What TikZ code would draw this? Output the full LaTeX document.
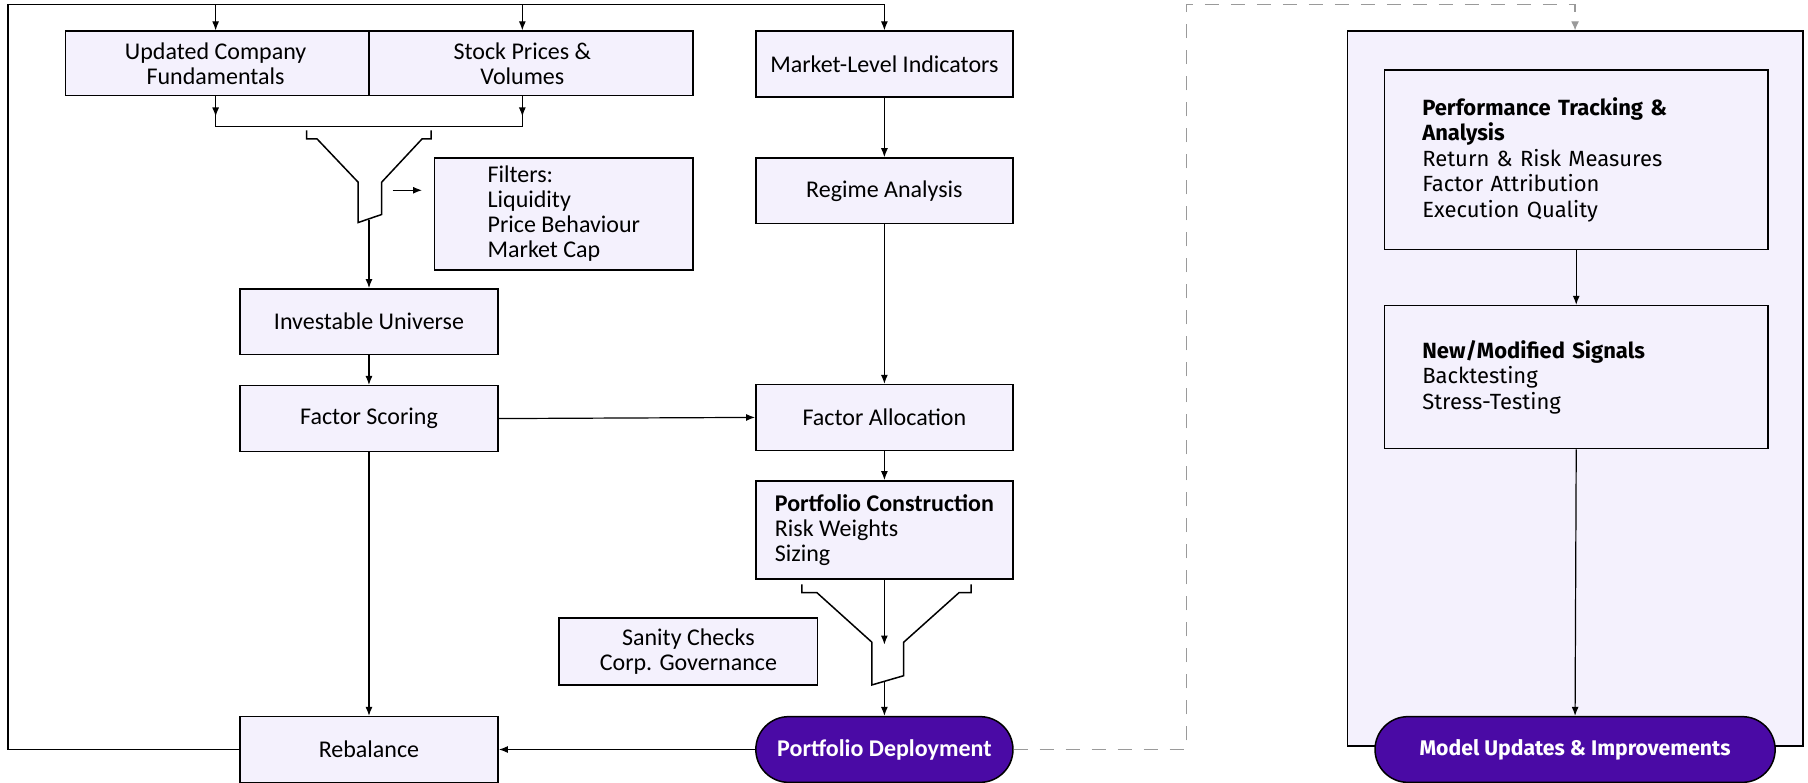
\documentclass[tikz,border=0pt]{standalone}
\usepackage{fontspec}
\setmainfont{Carlito}
\newfontfamily\plexfont{Fira Sans}
\usetikzlibrary{arrows.meta,shapes.misc}

\definecolor{boxfill}{HTML}{F4F1FD}
\definecolor{deploy}{HTML}{4A0AA5}
\definecolor{dashgray}{HTML}{9A9A9A}

\newlength\gridu
\setlength\gridu{0.5765pt}

\tikzset{
  box/.style={draw, fill=boxfill, line width=0.75pt, minimum width=224\gridu,
    minimum height=57\gridu, align=center, font=\fontsize{12}{12.5}\selectfont},
  pill/.style={rounded rectangle, draw, fill=deploy, text=white, line width=0.75pt,
    minimum height=57\gridu, inner sep=0pt},
  detail/.style={draw, fill=boxfill, line width=0.75pt, minimum width=333\gridu,
    text width=267\gridu, inner xsep=33\gridu, align=left,
    font=\plexfont\fontsize{11}{12.7}\selectfont},
  wire/.style={line width=0.6pt},
  flow/.style={wire, -{Latex[length=4.5pt,width=3.5pt]}},
  funnel/.style={line width=0.75pt},
  gdash/.style={dashgray, line width=0.6pt, dash pattern=on 7pt off 6pt,
    -{Latex[length=4.5pt,width=4pt]}},
}

\begin{document}
\begin{tikzpicture}[x=\gridu, y=-\gridu]
  \useasboundingbox (0,0) rectangle (1568,679);

  % data feeds (one frame, two halves)
  \node[box, minimum width=544\gridu, minimum height=56\gridu] (feeds) at (329,55) {};
  \draw[line width=0.75pt] (320,27) -- (320,83);
  \node[align=center, font=\fontsize{12}{12.5}\selectfont] (fund) at (187,55) {Updated Company\\Fundamentals};
  \node[align=center, font=\fontsize{12}{12.5}\selectfont] (prices) at (453,55) {Stock Prices \&\\Volumes};

  % left column
  \node[box, minimum height=97\gridu, align=left] (filters) at (489,185.5) {Filters:\\Liquidity\\Price Behaviour\\Market Cap};
  \node[box] (inv) at (320,279) {Investable Universe};
  \node[box] (score) at (320,363) {Factor Scoring};
  \node[box] (reb) at (320,650) {Rebalance};

  % middle column
  \node[box, minimum width=223\gridu, minimum height=57\gridu] (mkt) at (767,55.5) {Market-Level Indicators};
  \node[box, minimum width=223\gridu] (regime) at (767,165.5) {Regime Analysis};
  \node[box, minimum width=223\gridu] (alloc) at (767,362) {Factor Allocation};
  \node[box, minimum width=223\gridu, minimum height=85\gridu, align=left] (pc) at (767,459.5)
    {\textbf{Portfolio Construction}\\Risk Weights\\Sizing};
  \node[box, minimum height=58\gridu] (sanity) at (597,565) {Sanity Checks\\Corp. Governance};
  \node[pill, minimum width=223\gridu, font=\bfseries\fontsize{12}{12.5}\selectfont] (dep) at (767,650) {Portfolio Deployment};

  % review loop on the right
  \node[draw, fill=boxfill, line width=0.75pt, minimum width=395\gridu, minimum height=620\gridu] (cont) at (1366,337) {};
  \node[detail, minimum height=156\gridu] (perf) at (1367,138.5)
    {\textbf{Performance Tracking \&}\\\textbf{Analysis}\\Return \& Risk Measures\\Factor Attribution\\Execution Quality};
  \node[detail, minimum height=124\gridu] (signals) at (1367,327)
    {\textbf{New/Modified Signals}\\Backtesting\\Stress-Testing};
  \node[pill, minimum width=347\gridu, font=\plexfont\bfseries\fontsize{10.6}{12}\selectfont] (model) at (1366,650) {Model Updates \& Improvements};

  % feedback from rebalance to the inputs
  \coordinate (loop) at (7,4);
  \draw[flow] (reb.west) -| (loop) -| (mkt.north);
  \draw[flow] (fund |- loop) -- (fund |- feeds.north);
  \draw[flow] (prices |- loop) -- (prices |- feeds.north);

  % merge of the two feeds
  \coordinate (mergeL) at (187,110);
  \coordinate (mergeR) at (453,110);
  \draw[wire] (fund |- feeds.south) -- (mergeL) -- (mergeR) -- (prices |- feeds.south);
  \draw[flow] (fund |- feeds.south) -- (187,101);
  \draw[flow] (prices |- feeds.south) -- (453,101);

  % screening funnel
  \draw[funnel] (266,113) -- (266,120.5) -- (275,120.5) -- (310.6,158) -- (310.6,193)
    -- (331,186) -- (331,158) -- (366,120.5) -- (374,120.5) -- (374,113);
  \draw[flow] (340.5,165) -- (366,165);
  \coordinate (screenout) at (320,191);
  \draw[flow] (screenout) -- (inv.north);

  \draw[flow] (inv.south) -- (score.north);
  \draw[flow] (score.south) -- (reb.north);
  \draw[flow] (score.east) -- (alloc.west);

  \draw[flow] (mkt.south) -- (regime.north);
  \draw[flow] (regime.south) -- (alloc.north);
  \draw[flow] (alloc.south) -- (pc.north);

  % deployment funnel
  \draw[funnel] (695.4,506.8) -- (695.4,514) -- (708.5,514) -- (756.2,557) -- (756.2,594)
    -- (783.7,586) -- (783.7,557) -- (831.7,514) -- (842.1,514) -- (842.1,506.8);
  \coordinate (checkin) at (767,559);
  \draw[flow] (pc.south) -- (checkin);
  \coordinate (checkout) at (767,591);
  \draw[flow] (checkout) -- (dep.north);
  \draw[flow] (dep.west) -- (reb.east);

  % hand-over to model review
  \coordinate (dtop) at (1029,4);
  \draw[gdash] (dep.east) -| (dtop) -| (cont.north);

  \draw[flow] (perf.south) -- (signals.north);
  \draw[flow] (signals.south) -- (model.north);
\end{tikzpicture}
\end{document}
